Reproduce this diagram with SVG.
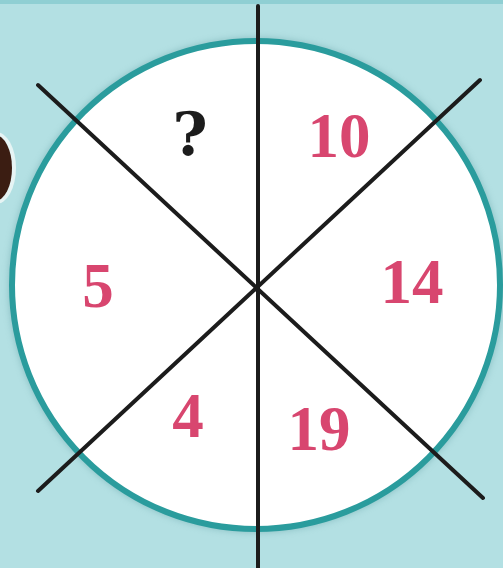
<svg xmlns="http://www.w3.org/2000/svg" width="503" height="568" viewBox="0 0 503 568">
<defs>
<style>
.num{font-family:"Liberation Serif","DejaVu Serif",serif;font-weight:bold;font-size:63px;fill:#d8466f;text-anchor:middle}
.q{font-family:"DejaVu Serif","Liberation Serif",serif;font-weight:bold;font-size:60px;fill:#1c1c1c;text-anchor:middle}
.ln{stroke:#1c1c1c;stroke-width:4;stroke-linecap:round;fill:none}
</style>
<filter id="sh" x="-10%" y="-10%" width="120%" height="120%"><feGaussianBlur stdDeviation="3"/></filter>
</defs>
<rect width="503" height="568" fill="#b3e0e3"/>
<rect width="503" height="4" fill="#8fcfd3"/>
<g id="ball">
<ellipse cx="-4" cy="168" rx="20" ry="36" fill="#e6f4f4"/>
<ellipse cx="-5" cy="168" rx="17" ry="33" fill="#3b1d12"/>
</g>
<g id="wheel">
<circle cx="256" cy="285" r="248" fill="#6fa9ad" opacity="0.5" filter="url(#sh)"/>
<circle cx="256" cy="285" r="244" fill="#ffffff" stroke="#2a9c9d" stroke-width="6"/>
</g>
<g id="connectors">
<line class="ln" x1="258" y1="6" x2="258" y2="568"/>
<line class="ln" x1="38" y1="85" x2="483" y2="498"/>
<line class="ln" x1="38" y1="491" x2="480" y2="80"/>
</g>
<g id="labels">
<text id="q" class="q" x="190" y="155">?</text>
<text id="n10" class="num" x="339" y="157">10</text>
<text id="n5" class="num" x="98" y="307">5</text>
<text id="n14" class="num" x="412" y="303">14</text>
<text id="n4" class="num" x="188" y="437">4</text>
<text id="n19" class="num" x="319" y="450">19</text>
</g>
</svg>
